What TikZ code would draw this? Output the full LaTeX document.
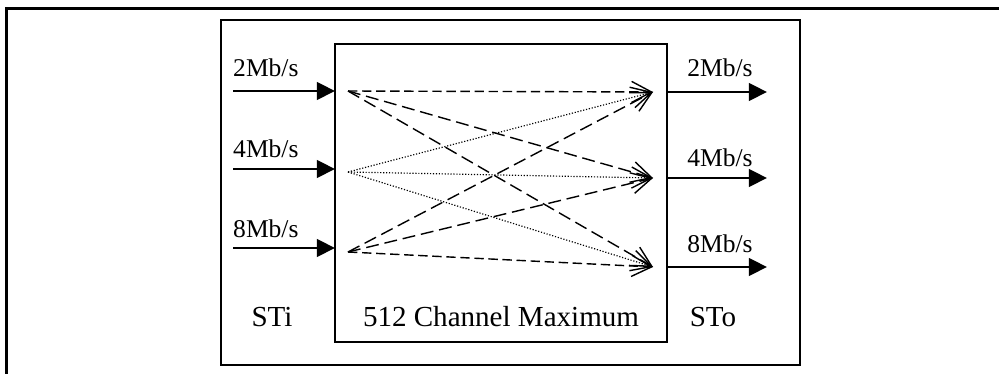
\documentclass[tikz,border=0pt]{standalone}
\usepackage{fontspec}
\setmainfont{Liberation Serif}
\usetikzlibrary{arrows.meta}

\begin{document}
\begin{tikzpicture}[x=0.03cm, y=-0.03cm,
        rate/.style={font=\fontsize{21.8}{26}\selectfont, inner sep=0pt},
        side/.style={font=\fontsize{24.8}{30}\selectfont, anchor=base, inner sep=0pt},
        feed/.style={line width=1.7pt, -{Triangle[length=15.4pt, width=15pt]}},
        route/.style={line width=1.2pt, -{Straight Barb[length=17pt, width=18pt, line width=1.2pt]}},
        shortdash/.style={dash pattern=on 8pt off 4pt},
        longdash/.style={dash pattern=on 11pt off 5pt},
        dots/.style={line width=1pt, dash pattern=on 1pt off 1.5pt}]

        % the page is the 999 x 374 frame, one unit is one pixel
        \useasboundingbox (0,0) rectangle (999,374);

        % outer frame, it runs out of the picture on the right and at the bottom
        \draw[line width=1.8pt] (6.5,374) |- (999,8.5);

        % the stream box and the switch inside it
        \draw[line width=1.1pt] (221,20) rectangle (800,365);
        \draw[line width=1.1pt] (335,44) rectangle (667,342);

        % input streams: arrow onto the switch, its rate, and the point
        % (src\i) where the routes leave from
        \foreach \rate / \yarrow / \ylabel / \yroute [count=\i] in
                        {2/91/77/91, 4/169/158/172, 8/248/238/252} {
            \coordinate (feed\i) at (233,\yarrow);
            \coordinate (inedge\i) at (335,\yarrow);
            \coordinate (src\i) at (348,\yroute);
            \node[rate, anchor=base west] (inlabel\i) at (233,\ylabel) {\rate Mb/s};
            \draw[feed] (feed\i) -- (inedge\i);
        }

        % output streams, same thing on the other side
        \foreach \rate / \yarrow / \ylabel [count=\i] in
                        {2/92/77, 4/178/167, 8/267/253} {
            \coordinate (dst\i) at (653,\yarrow);
            \coordinate (outedge\i) at (667,\yarrow);
            \coordinate (out\i) at (767,\yarrow);
            \node[rate, anchor=base] (outlabel\i) at (720,\ylabel) {\rate Mb/s};
            \draw[feed] (outedge\i) -- (out\i);
        }

        % every input can go to every output
        \foreach \from / \to / \kind in {
                        1/1/shortdash, 1/2/longdash, 1/3/longdash,
                        2/1/dots, 2/2/dots, 2/3/dots,
                        3/1/longdash, 3/2/longdash, 3/3/shortdash} {
            \draw[route, \kind] (src\from) -- (dst\to);
        }

        \node[side] (sti) at (272,327) {STi};
        \node[side] (capacity) at (501,327) {512 Channel Maximum};
        \node[side] (sto) at (713,327) {STo};
    \end{tikzpicture}
\end{document}
